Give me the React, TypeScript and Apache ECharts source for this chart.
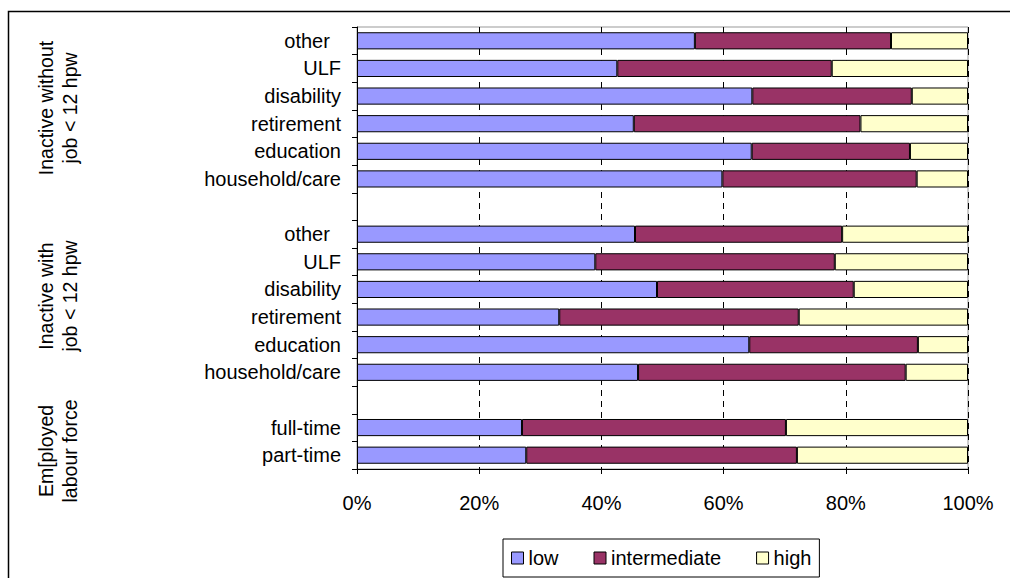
import React, { useEffect, useRef } from "react";
import * as echarts from "echarts";

const categories = [
  "other  ", "ULF", "disability", "retirement", "education", "household/care",
  "",
  "other  ", "ULF", "disability", "retirement", "education", "household/care",
  "",
  "full-time", "part-time",
];

const lowValues = [55.3, 42.6, 64.7, 45.3, 64.6, 59.8, null, 45.5, 39.0, 49.1, 33.1, 64.2, 46.0, null, 27.0, 27.7];
const intermediateValues = [32.1, 35.1, 26.1, 37.1, 25.9, 31.8, null, 33.9, 39.2, 32.2, 39.2, 27.6, 43.8, null, 43.2, 44.3];
const highValues = [12.6, 22.3, 9.2, 17.6, 9.5, 8.4, null, 20.6, 21.8, 18.7, 27.7, 8.2, 10.2, null, 29.8, 28.0];

const seriesNames = ["low", "intermediate", "high"];
const seriesColors = ["#9999FF", "#993366", "#FFFFCC"];

const groupLabels = [
  { text: "Inactive without\njob < 12 hpw", y: 108 },
  { text: "Inactive with\njob < 12 hpw", y: 296 },
  { text: "Em[ployed\nlabour force", y: 451 },
];

const FONT = "'Liberation Sans', Arial, sans-serif";

export default function App() {
  const ref = useRef<HTMLDivElement>(null);

  useEffect(() => {
    if (!ref.current) return;
    const chart = echarts.init(ref.current, undefined, { renderer: "svg" });
    const values = [lowValues, intermediateValues, highValues];
    chart.setOption({
      animation: false,
      backgroundColor: "#fff",
      textStyle: { fontFamily: FONT },
      grid: {
        left: 357,
        top: 27,
        width: 611,
        height: 442,
        show: true,
        borderColor: "#999",
        borderWidth: 1,
        backgroundColor: "transparent",
      },
      legend: {
        data: seriesNames,
        left: 503,
        top: 539,
        orient: "horizontal",
        icon: "rect",
        itemWidth: 12,
        itemHeight: 12,
        itemGap: 35,
        padding: [9, 8],
        borderColor: "#000",
        borderWidth: 1,
        borderRadius: 0,
        textStyle: { fontSize: 20, color: "#000", fontFamily: FONT, lineHeight: 19 },
        itemStyle: { borderColor: "#000", borderWidth: 1 },
      },
      xAxis: {
        type: "value",
        min: 0,
        max: 100,
        interval: 20,
        axisLine: { show: true, lineStyle: { color: "#000", width: 1 } },
        axisTick: { show: true, length: 5, lineStyle: { color: "#000" } },
        axisLabel: {
          formatter: "{value}%",
          fontSize: 20,
          color: "#000",
          fontFamily: FONT,
          margin: 24,
        },
        splitLine: {
          show: true,
          lineStyle: { color: "#000", width: 1, type: [6, 5] },
        },
      },
      yAxis: {
        type: "category",
        data: categories,
        inverse: true,
        axisLine: { show: true, lineStyle: { color: "#000", width: 1 } },
        axisTick: { show: true, length: 5, lineStyle: { color: "#000" } },
        axisLabel: {
          fontSize: 20,
          color: "#000",
          fontFamily: FONT,
          margin: 16,
          interval: 0,
        },
        splitLine: { show: false },
      },
      series: seriesNames.map((name, i) => ({
        name,
        type: "bar",
        stack: "total",
        data: values[i],
        barCategoryGap: "38%",
        itemStyle: { color: seriesColors[i], borderColor: "#000", borderWidth: 1 },
      })),
      graphic: [
        {
          type: "rect",
          shape: { x: 8.5, y: 11.5, width: 1100, height: 700 },
          style: { fill: "none", stroke: "#000", lineWidth: 1.5 },
          silent: true,
        },
        ...groupLabels.map((g) => ({
          type: "text",
          x: 58,
          y: g.y,
          rotation: Math.PI / 2,
          style: {
            text: g.text,
            font: `19.5px ${FONT}`,
            fill: "#000",
            align: "center",
            verticalAlign: "middle",
            lineHeight: 24,
          },
        })),
      ],
    });
    return () => chart.dispose();
  }, []);

  return (
    <div
      ref={ref}
      style={{ position: "fixed", left: 0, top: 0, width: 1010, height: 578 }}
    />
  );
}
